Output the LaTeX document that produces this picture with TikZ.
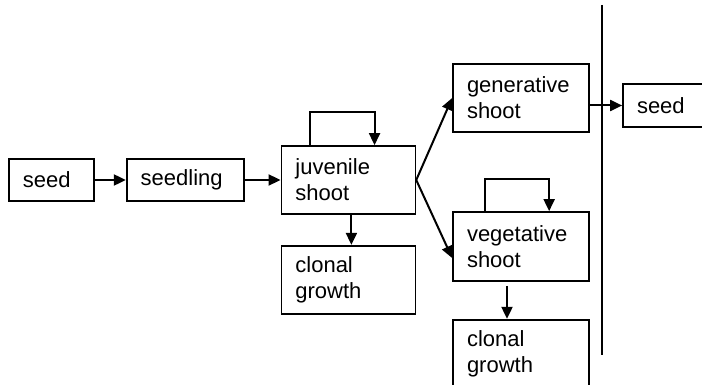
\documentclass[tikz,border=0pt]{standalone}
\usepackage{fontspec}
\setmainfont{Liberation Sans}
\usetikzlibrary{arrows.meta,positioning,calc}
\tikzset{
  stagebox/.style={
    rectangle, draw=black, line width=0.85pt,
    text width=#1, inner xsep=7pt, inner ysep=2pt,
    minimum height=34pt, align=left,
    font=\fontsize{11}{13}\selectfont
  },
  stagebox/.default=53pt,
  flowarrow/.style={
    -{Triangle[length=6pt,width=5.5pt]}, line width=1pt
  },
  divider/.style={line width=1pt},
}

\begin{document}
\begin{tikzpicture}[x=1pt,y=1pt]
  \useasboundingbox (0,0) rectangle (351,-192.5);
  \clip (0,0) rectangle (351,-192.5);

  % main line
  \node[stagebox=28.5pt, minimum height=21pt] (seed) at (25.75,-90) {seed};
  \node[stagebox=44.5pt, minimum height=21pt, right=15.5pt of seed] (seedling) {seedling};
  \node[stagebox, right=18pt of seedling] (juvenile) {juvenile\\shoot};
  \node[stagebox, below=15pt of juvenile] (clonalj) {clonal\\growth};

  % two ways out of the juvenile shoot
  \node[stagebox=54pt] (generative) at (260.5,-49) {generative\\shoot};
  \node[stagebox=54pt, minimum height=34.5pt] (vegetative) at (260.5,-123.25) {vegetative\\shoot};
  \node[stagebox=54pt, below=18.5pt of vegetative] (clonalv) {clonal\\growth};

  % next generation, past the divider
  \node[stagebox=31pt, minimum height=21.5pt] (seednext) at (334,-52.75) {seed};
  \draw[divider] (301,-2.5) coordinate (divtop) -- (301,-177.5) coordinate (divbot);

  % flow
  \draw[flowarrow] (seed) -- (seedling);
  \draw[flowarrow] (seedling) -- (juvenile);
  \draw[flowarrow] ([xshift=1.5pt]juvenile.south) -- ([xshift=1.5pt]clonalj.north);
  \draw[flowarrow] (juvenile.east) -- (generative.west);
  \draw[flowarrow] (juvenile.east) -- ([yshift=-5.75pt]vegetative.west);
  \draw[flowarrow] ([xshift=-7pt,yshift=-2pt]vegetative.south) -- ([xshift=-7pt]clonalv.north);
  \draw[flowarrow] (generative.east |- seednext.west) -- (seednext.west);

  % staying in the same stage
  \draw[flowarrow] ([xshift=14.5pt]juvenile.north west) -- ++(0,16.5) -| ([xshift=47pt]juvenile.north west);
  \draw[flowarrow] ([xshift=16.5pt]vegetative.north west) -- ++(0,16) -| ([xshift=48.5pt]vegetative.north west);
\end{tikzpicture}
\end{document}
